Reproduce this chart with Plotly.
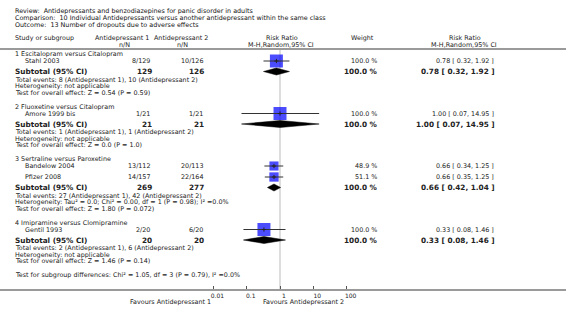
import math
import plotly.graph_objects as go

# ---------------- data ----------------
title_lines = [
    "Review:  Antidepressants and benzodiazepines for panic disorder in adults",
    "Comparison:  10 Individual Antidepressants versus another antidepressant within the same class",
    "Outcome:  13 Number of dropouts due to adverse effects",
]
group_names = [
    "1 Escitalopram versus Citalopram",
    "2 Fluoxetine versus Citalopram",
    "3 Sertraline versus Paroxetine",
    "4 Imipramine versus Clomipramine",
]
group_of_study = [0, 1, 2, 2, 3]
studies = ["Stahl 2003", "Amore 1999 bis", "Bandelow 2004", "Pfizer 2008", "Gentil 1993"]
events1 = [8, 1, 13, 14, 2]
n1 = [129, 21, 112, 157, 20]
events2 = [10, 1, 20, 22, 6]
n2 = [126, 21, 113, 164, 20]
rr = [0.78, 1.00, 0.66, 0.66, 0.33]
rr_lo = [0.32, 0.07, 0.34, 0.35, 0.08]
rr_hi = [1.92, 14.95, 1.25, 1.25, 1.46]
weights = [100.0, 100.0, 48.9, 51.1, 100.0]

sub_rr = [0.78, 1.00, 0.66, 0.33]
sub_lo = [0.32, 0.07, 0.42, 0.08]
sub_hi = [1.92, 14.95, 1.04, 1.46]
sub_weight = [100.0, 100.0, 100.0, 100.0]
heterogeneity = [
    "Heterogeneity: not applicable",
    "Heterogeneity: not applicable",
    "Heterogeneity: Tau² = 0.0; Chi² = 0.00, df = 1 (P = 0.98); I² =0.0%",
    "Heterogeneity: not applicable",
]
overall_tests = [
    "Test for overall effect: Z = 0.54 (P = 0.59)",
    "Test for overall effect: Z = 0.0 (P = 1.0)",
    "Test for overall effect: Z = 1.80 (P = 0.072)",
    "Test for overall effect: Z = 1.46 (P = 0.14)",
]
subgroup_test = "Test for subgroup differences: Chi² = 1.05, df = 3 (P = 0.79), I² =0.0%"
tick_vals = [0.01, 0.1, 1, 10, 100]
tick_text = ["0.01", "0.1", "1", "10", "100"]
favours_left = "Favours Antidepressant 1"
favours_right = "Favours Antidepressant 2"

# ---------------- layout constants ----------------
W, H = 566, 313
CENTER_PX, DECADE_PX = 280.0, 33.33
AXIS_Y = 290
FONT = "DejaVu Sans"
TXT = "#222222"
SMALL, BOLD = 6.4, 7.3

log_lo = (0 - CENTER_PX) / DECADE_PX
log_hi = (W - CENTER_PX) / DECADE_PX

fig = go.Figure()
ann = []


def text(x, y, s, anchor="left", size=SMALL, bold=False, color=TXT):
    ann.append(dict(
        x=x, y=y, xref="x", yref="y", text=("<b>%s</b>" % s) if bold else s,
        showarrow=False, xanchor=anchor, yanchor="middle",
        font=dict(family=FONT, size=size, color=color),
    ))


# title
for i, t in enumerate(title_lines):
    text(13, 11 + i * 7, t, color="#111111")

# headers
text(13, 38, "Study or subgroup")
text(122, 38, "Antidepressant 1", "center")
text(124, 44.5, "n/N", "center")
text(181, 38, "Antidepressant 2", "center")
text(182, 44.5, "n/N", "center")
text(282, 38, "Risk Ratio", "center")
text(281, 44.5, "M-H,Random,95% CI", "center")
text(362, 38, "Weight", "center")
text(465, 38, "Risk Ratio", "center")
text(464, 44.5, "M-H,Random,95% CI", "center")

# compute rows
study_y = [None] * len(studies)
sub_y = []
y = 54
for g, gname in enumerate(group_names):
    text(13, y, gname)
    idx = [i for i, gg in enumerate(group_of_study) if gg == g]
    yy = y + 7
    for k, i in enumerate(idx):
        if k > 0:
            yy += 11
        study_y[i] = yy
        text(23, yy, studies[i])
        text(152, yy, "%d/%d" % (events1[i], n1[i]), "right")
        text(205, yy, "%d/%d" % (events2[i], n2[i]), "right")
        text(379, yy, "%.1f %%" % weights[i], "right")
        text(496, yy, "%.2f [ %.2f, %.2f ]" % (rr[i], rr_lo[i], rr_hi[i]), "right")
    ys = yy + 10.5
    sub_y.append(ys)
    tot1 = sum(n1[i] for i in idx)
    tot2 = sum(n2[i] for i in idx)
    ev1 = sum(events1[i] for i in idx)
    ev2 = sum(events2[i] for i in idx)
    text(13, ys, "Subtotal (95% CI)", size=BOLD, bold=True)
    text(154, ys, str(tot1), "right", size=BOLD, bold=True)
    text(206, ys, str(tot2), "right", size=BOLD, bold=True)
    text(380, ys, "%.1f %%" % sub_weight[g], "right", size=BOLD, bold=True)
    text(497, ys, "%.2f [ %.2f, %.2f ]" % (sub_rr[g], sub_lo[g], sub_hi[g]), "right", size=BOLD, bold=True)
    text(13, ys + 8.2, "Total events: %d (Antidepressant 1), %d (Antidepressant 2)" % (ev1, ev2))
    text(13, ys + 14.6, heterogeneity[g])
    text(13, ys + 21, overall_tests[g])
    y = ys + 35
text(13, y - 0.5, subgroup_test)

# favours labels
text(213, 302, favours_left, "right")
text(346, 302, favours_right, "right")

# ---------------- marks ----------------
# squares
fig.add_trace(go.Scatter(
    x=rr, y=study_y, xaxis="x2", yaxis="y", mode="markers",
    marker=dict(symbol="square", color="#0000ff",
                size=[13 * math.sqrt(w / 100.0) for w in weights],
                line=dict(width=0)),
    hoverinfo="skip", showlegend=False,
))
# CI lines
for i in range(len(studies)):
    fig.add_trace(go.Scatter(
        x=[rr_lo[i], rr_hi[i]], y=[study_y[i], study_y[i]], xaxis="x2", yaxis="y",
        mode="lines", line=dict(color="#333333", width=1),
        hoverinfo="skip", showlegend=False,
    ))
    fig.add_trace(go.Scatter(
        x=[rr[i]], y=[study_y[i]], xaxis="x2", yaxis="y", mode="markers",
        marker=dict(symbol="cross-thin", size=3, line=dict(color="#222", width=1)),
        hoverinfo="skip", showlegend=False,
    ))
# diamonds
HD = 3.5
for g in range(len(group_names)):
    yc = sub_y[g]
    fig.add_trace(go.Scatter(
        x=[sub_lo[g], sub_rr[g], sub_hi[g], sub_rr[g], sub_lo[g]],
        y=[yc, yc - HD, yc, yc + HD, yc], xaxis="x2", yaxis="y",
        mode="lines", fill="toself", fillcolor="#000000",
        line=dict(color="#000000", width=0.5),
        hoverinfo="skip", showlegend=False,
    ))

shapes = [
    dict(type="line", xref="paper", yref="y", x0=0, x1=1, y0=49, y1=49,
         line=dict(color="#9a9a9a", width=2), layer="below"),
    dict(type="line", xref="x2", yref="y", x0=1, x1=1, y0=50, y1=AXIS_Y - 1,
         line=dict(color="#dddddd", width=2), layer="below"),
]

fig.update_layout(
    width=W, height=H, margin=dict(l=0, r=0, t=0, b=0),
    paper_bgcolor="white", plot_bgcolor="white",
    xaxis=dict(range=[0, W], domain=[0, 1], visible=False, fixedrange=True),
    xaxis2=dict(type="log", range=[log_lo, log_hi], domain=[0, 1],
                anchor="free", position=1 - AXIS_Y / H, overlaying="x",
                showline=True, linecolor="#9a9a9a", linewidth=2,
                ticks="inside", ticklen=3, tickcolor="#555555", tickwidth=1,
                tickvals=tick_vals, ticktext=tick_text, ticklabelshift=4,
                tickfont=dict(family=FONT, size=6, color=TXT),
                showgrid=False, zeroline=False, fixedrange=True),
    yaxis=dict(range=[H, 0], domain=[0, 1], visible=False, fixedrange=True),
    annotations=ann, shapes=shapes, showlegend=False,
)

fig.write_html("out.html", config={"displayModeBar": False},
               post_script="document.body.style.margin='0';")
